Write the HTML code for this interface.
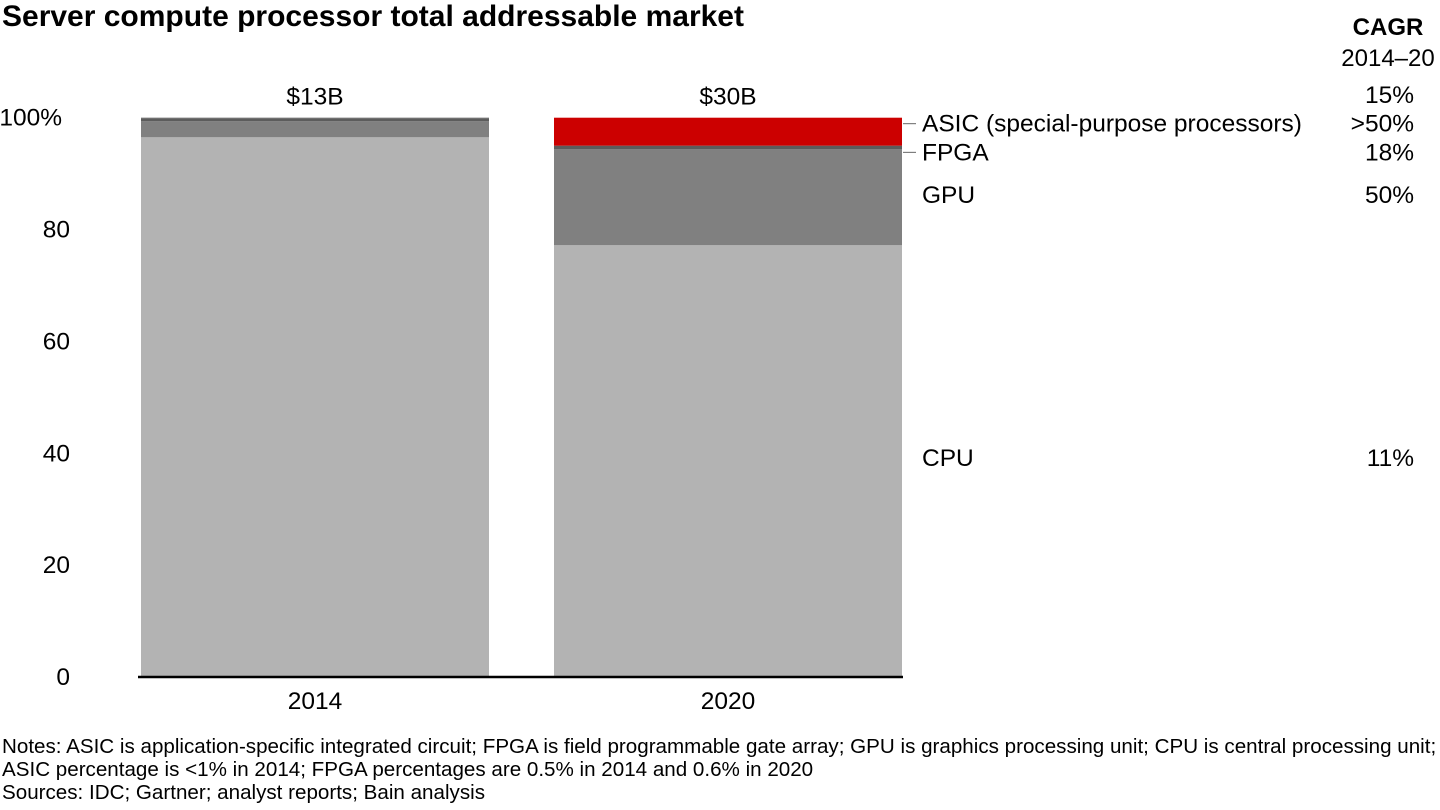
<!DOCTYPE html>
<html><head><meta charset="utf-8"><style>
body{margin:0;width:1440px;height:810px;background:#fff;font-family:"Liberation Sans",Arial,sans-serif;overflow:hidden;position:relative}
.t{position:absolute;white-space:nowrap;color:#000}
</style></head><body>
<div class="t" style="left:2px;top:0px;font-size:30px;font-weight:bold">Server compute processor total addressable market</div>
<div class="t" style="left:1330px;top:14px;width:116px;text-align:center;font-size:24px;font-weight:bold">CAGR</div>
<div class="t" style="left:1330px;top:45px;width:116px;text-align:center;font-size:24px">2014–20</div>
<svg id="chart" width="1440" height="810" style="position:absolute;left:0;top:0"></svg>
<div class="t" style="left:2px;top:735px;font-size:20.6px;line-height:23px">Notes: ASIC is application-specific integrated circuit; FPGA is field programmable gate array; GPU is graphics processing unit; CPU is central processing unit;<br>ASIC percentage is &lt;1% in 2014; FPGA percentages are 0.5% in 2014 and 0.6% in 2020<br>Sources: IDC; Gartner; analyst reports; Bain analysis</div>
<script>
const categories=["2014","2020"];
const totals=["$13B","$30B"];
const cpu=[96.5,77.2];
const gpu=[2.9,17.2];
const fpga=[0.5,0.6];
const asic=[0.1,5.0];
const seriesNames=["CPU","GPU","FPGA","ASIC (special-purpose processors)"];
const cagr=["11%","50%","18%",">50%"];
const totalCagr="15%";
const yTicks=[0,20,40,60,80,100];
const NS="http://www.w3.org/2000/svg";
const svg=document.getElementById('chart');
const y0=677,y100=117.7;
const y=v=>y0-(y0-y100)*v/100;
const barX=[141,554],barW=348;
const FS=24.5;
function mk(tag,attrs){const e=document.createElementNS(NS,tag);for(const k in attrs)e.setAttribute(k,attrs[k]);svg.appendChild(e);return e;}
const series=[cpu,gpu,fpga,asic];
const colors=[["#b3b3b3","#808080","#5c5c5c","#5c5c5c"],["#b3b3b3","#808080","#5c5c5c","#cc0000"]];
categories.forEach((c,i)=>{
  let acc=0;
  series.forEach((s,j)=>{
    const r=mk('rect',{x:barX[i],y:y(acc+s[i]),width:barW,height:y(acc)-y(acc+s[i]),fill:colors[i][j]});
    
    
    acc+=s[i];
  });
  const tl=mk('text',{x:barX[i]+barW/2,y:y(100)-13,'text-anchor':'middle','font-size':FS,'font-family':'Liberation Sans'});
  tl.textContent=totals[i];
  
  
  const xl=mk('text',{x:barX[i]+barW/2,y:709,'text-anchor':'middle','font-size':FS,'font-family':'Liberation Sans'});
  xl.textContent=c;
  
  
});
yTicks.forEach(t=>{
  const e=mk('text',{x:t===100?62:70,y:y(t)+8,'text-anchor':'end','font-size':FS,'font-family':'Liberation Sans'});
  e.textContent=t===100?'100%':t;
  
  
});
const ax=mk('line',{x1:138,x2:903,y1:y0,y2:y0,stroke:'#000','stroke-width':2.5});


const mids=[];let acc=0;series.forEach(s=>{mids.push(acc+s[1]/2);acc+=s[1];});
const labelY=[y(mids[0])-3,y(mids[1])-2,y(mids[2])+5,y(mids[3])-8];
seriesNames.forEach((n,j)=>{
  const ly=labelY[j];
  const e=mk('text',{x:922,y:ly+8,'font-size':FS,'font-family':'Liberation Sans'});
  e.textContent=n;
  
  
  const cg=mk('text',{x:1414,y:ly+8,'text-anchor':'end','font-size':FS,'font-family':'Liberation Sans'});
  cg.textContent=cagr[j];
  
  
  if(j>=2){const l=mk('line',{x1:903,x2:916,y1:ly,y2:ly,stroke:'#666','stroke-width':1});
    
    }
});
const tc=mk('text',{x:1414,y:103,'text-anchor':'end','font-size':FS,'font-family':'Liberation Sans'});
tc.textContent=totalCagr;


</script>
</body></html>
